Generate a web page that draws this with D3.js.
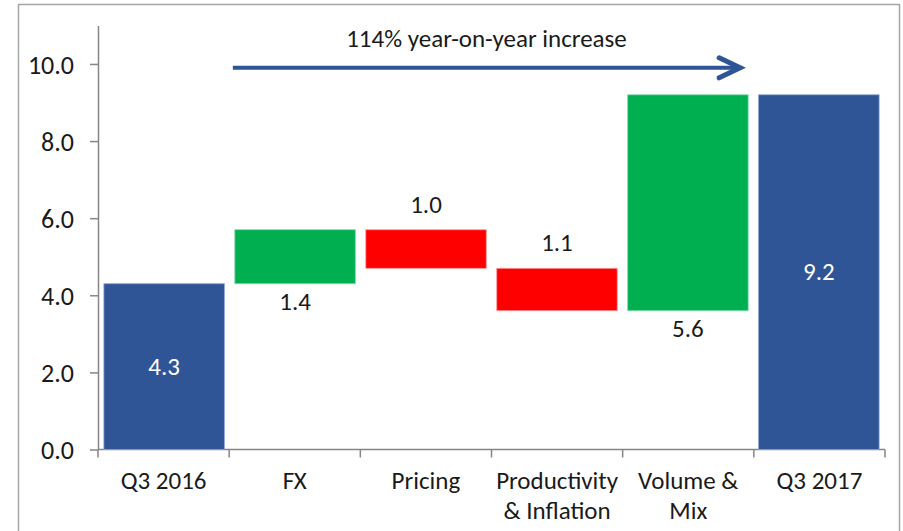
<!DOCTYPE html>
<html>
<head>
<meta charset="utf-8">
<script src="https://cdn.jsdelivr.net/npm/d3@7/dist/d3.min.js"></script>
<style>
  html, body { margin: 0; padding: 0; background: #fff; }
  svg { display: block; font-family: Carlito, Calibri, "Open Sans", sans-serif; }
</style>
</head>
<body>
<script>
const categories = ["Q3 2016", "FX", "Pricing", "Productivity & Inflation", "Volume & Mix", "Q3 2017"];
const tickLabels = [["Q3 2016"], ["FX"], ["Pricing"], ["Productivity", "& Inflation"], ["Volume &", "Mix"], ["Q3 2017"]];
const values = [4.3, 1.4, -1.0, -1.1, 5.6, 9.2];
const kinds = ["total", "delta", "delta", "delta", "delta", "total"];
const yTicks = [0, 2, 4, 6, 8, 10];
const annotation = "114% year-on-year increase";

const W = 903, H = 531;
const FONT = 'Carlito, Calibri, "Open Sans", sans-serif';
const FS = 25;
const svg = d3.select("body").append("svg").attr("width", W).attr("height", H);

// outer frame
svg.append("rect").attr("x", 18.5).attr("y", 4.5).attr("width", 881).attr("height", 560)
  .attr("fill", "none").attr("stroke", "#a6a6a6").attr("stroke-width", 1.5);

const x = d3.scaleBand().domain(categories).range([98, 885]).paddingInner(0.08).paddingOuter(0.045);
const y = d3.scaleLinear().domain([0, 11]).range([449.5, 25.4]);

// compute waterfall spans
let run = 0;
const bars = categories.map((c, i) => {
  let lo, hi;
  if (kinds[i] === "total") { lo = 0; hi = values[i]; run = values[i]; }
  else { const s = run; run = run + values[i]; lo = Math.min(s, run); hi = Math.max(s, run); }
  return { c, v: values[i], kind: kinds[i], lo, hi };
});
const color = d => d.kind === "total" ? "#2F5597" : (d.v >= 0 ? "#00B050" : "#FF0000");
const edge = d => d.kind === "total" ? "#8ea6d4" : (d.v >= 0 ? "#7fd8a8" : "#ff9a9a");

// axes
const axisColor = "#868686";
const yAxis = svg.append("g").attr("transform", "translate(98,0)")
  .call(d3.axisLeft(y).tickValues(yTicks).tickFormat(d3.format(".1f")).tickSize(8).tickSizeOuter(0));
yAxis.select(".domain").attr("stroke", axisColor).attr("stroke-width", 1.5);
yAxis.selectAll(".tick line").attr("stroke", axisColor).attr("stroke-width", 1.5);
yAxis.selectAll(".tick text").attr("font-size", FS + 1).attr("fill", "#1a1a1a")
  .attr("font-family", FONT).attr("x", -24).attr("dy", "0.36em");

// x axis line and boundary ticks
const x0 = x.range()[0], x1 = x.range()[1];
const gx = svg.append("g");
gx.append("line").attr("x1", x0).attr("x2", x1).attr("y1", y(0)).attr("y2", y(0))
  .attr("stroke", axisColor).attr("stroke-width", 1.5);
const bounds = d3.range(categories.length + 1).map(i => x0 + i * (x1 - x0) / categories.length);
gx.selectAll("line.tk").data(bounds).join("line").attr("class", "tk")
  .attr("x1", d => d).attr("x2", d => d).attr("y1", y(0)).attr("y2", y(0) + 8)
  .attr("stroke", axisColor).attr("stroke-width", 1.5);
categories.forEach((c, i) => {
  const cx = bounds[i] + (bounds[i + 1] - bounds[i]) / 2;
  const t = gx.append("text").attr("text-anchor", "middle").attr("font-size", FS).attr("fill", "#1a1a1a")
    .attr("x", cx).attr("y", 489);
  tickLabels[i].forEach((line, j) => {
    t.append("tspan").attr("x", cx).attr("dy", j === 0 ? 0 : 29.5).text(line);
  });
});

// bars
svg.append("g").selectAll("rect").data(bars).join("rect")
  .attr("x", d => x(d.c)).attr("width", x.bandwidth())
  .attr("y", d => y(d.hi)).attr("height", d => y(d.lo) - y(d.hi))
  .attr("fill", color).attr("stroke", edge).attr("stroke-width", 0.8);

// data labels
svg.append("g").selectAll("text").data(bars).join("text")
  .attr("text-anchor", "middle").attr("font-size", FS)
  .attr("x", d => x(d.c) + x.bandwidth() / 2)
  .attr("y", d => d.kind === "total" ? (y(d.lo) + y(d.hi)) / 2 + 8
              : d.v >= 0 ? y(d.lo) + 26 : y(d.hi) - 17)
  .attr("fill", d => d.kind === "total" ? "#ffffff" : "#1a1a1a")
  .text(d => d3.format(".1f")(Math.abs(d.v)));

// annotation arrow
const ay = y(9.9);
const ax0 = x("FX") - 2, ax1 = x("Volume & Mix") + x.bandwidth() - 8;
const arrowColor = "#2F5597";
svg.append("line").attr("x1", ax0).attr("x2", ax1 - 2).attr("y1", ay).attr("y2", ay)
  .attr("stroke", arrowColor).attr("stroke-width", 4);
svg.append("path").attr("d", `M${ax1 - 21},${ay - 10} L${ax1},${ay} L${ax1 - 21},${ay + 10}`)
  .attr("fill", "none").attr("stroke", arrowColor).attr("stroke-width", 5)
  .attr("stroke-linecap", "round").attr("stroke-linejoin", "miter");
svg.append("text").attr("text-anchor", "middle").attr("font-size", FS).attr("fill", "#1a1a1a")
  .attr("x", (ax0 + ax1) / 2).attr("y", 47).text(annotation);
</script>
</body>
</html>
